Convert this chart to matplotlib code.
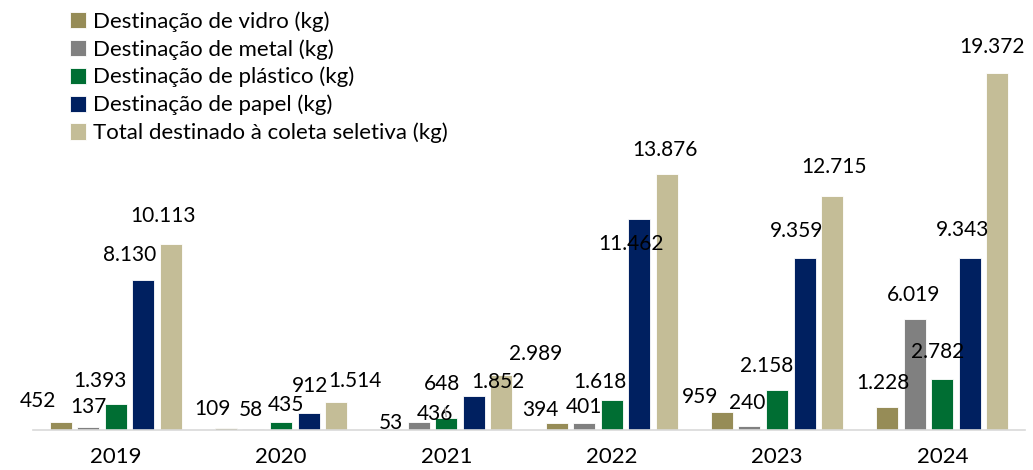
import matplotlib.pyplot as plt
import numpy as np

plt.rcParams['font.family'] = ['Lato', 'DejaVu Sans']

years = ['2019', '2020', '2021', '2022', '2023', '2024']
vidro = [452, 109, 53, 394, 959, 1228]
metal = [137, 58, 436, 401, 240, 6019]
plastico = [1393, 435, 648, 1618, 2158, 2782]
papel = [8130, 912, 1852, 11462, 9359, 9343]
total = [10113, 1514, 2989, 13876, 12715, 19372]

labels = ['Destinação de vidro (kg)', 'Destinação de metal (kg)',
          'Destinação de plástico (kg)', 'Destinação de papel (kg)',
          'Total destinado à coleta seletiva (kg)']
colors = ['#968c57', '#808080', '#006e33', '#002060', '#c4bd97']
series = [vidro, metal, plastico, papel, total]

# label offsets in pixels (dx, dy) from top-center of each bar, per series/year
offsets = [
    [(-23, 21), (-13, 19), (0, 6), (-16, 13), (-22, 15), (-4, 24)],
    [(0, 20), (-3, 19), (16, 8), (0, 16), (-2, 23), (-1, 24)],
    [(-16, 23), (5, 17), (-4, 34), (-12, 18), (-10, 24), (-5, 27)],
    [(-14, 25), (2, 27), (24, 14), (-8, -25), (-8, 27), (-7, 28)],
    [(-8, 28), (19, 21), (34, 21), (-2, 24), (2, 29), (-5, 26)],
]


def fmt(v):
    return f'{v:,}'.replace(',', '.')


fig = plt.figure(figsize=(10.33, 4.7), dpi=100)
ax = fig.add_axes([33 / 1033, 40 / 470, 992 / 1033, 430 / 470])

x = np.arange(len(years))
pitch = 0.1667
width = 0.133
for i, (vals, lab, col) in enumerate(zip(series, labels, colors)):
    pos = x + (i - 2) * pitch
    ax.bar(pos, vals, width, color=col, label=lab, edgecolor='white', linewidth=0.6)
    for j, v in enumerate(vals):
        dx, dy = offsets[i][j]
        kw = {}
        if i == 2 and j == 2:
            kw['arrowprops'] = dict(arrowstyle='-', color='#a6a6a6', lw=1,
                                    shrinkA=8, shrinkB=1)
        ax.annotate(fmt(v), (pos[j], v), xytext=(dx, dy), textcoords='offset pixels',
                    ha='center', va='center', fontsize=15, color='black', **kw)

ax.set_xlim(-0.5, 5.5)
ax.set_ylim(0, 23330)
ax.set_xticks(x)
ax.set_xticklabels(years, fontsize=16)
ax.tick_params(axis='x', length=0, pad=12)
ax.set_yticks([])
for s in ['top', 'right', 'left']:
    ax.spines[s].set_visible(False)
ax.spines['bottom'].set_color('#d9d9d9')
ax.spines['bottom'].set_linewidth(1.2)

ax.legend(loc='upper left', bbox_to_anchor=(0.028, 0.995), frameon=False,
          fontsize=16, handlelength=0.75, handleheight=0.75, handletextpad=0.3,
          labelspacing=0.33, borderaxespad=0)

fig.savefig('out.png', dpi=100)
